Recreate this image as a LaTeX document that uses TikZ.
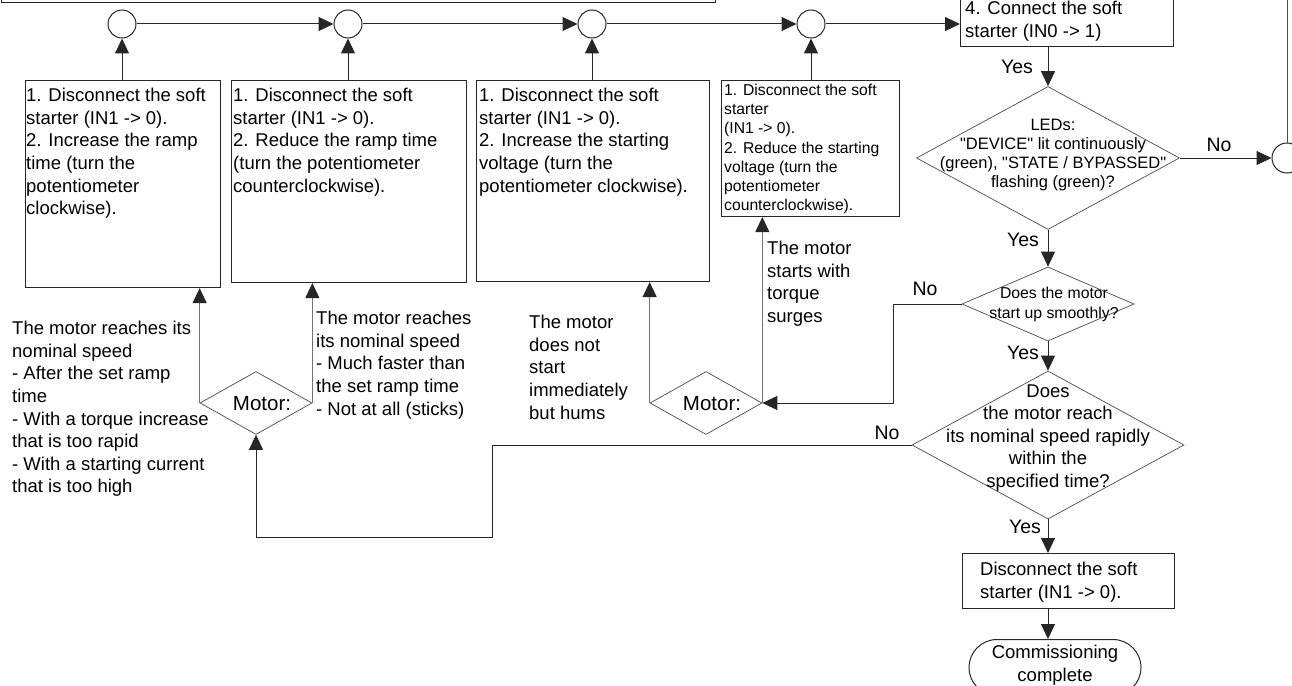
\documentclass[tikz,border=0pt]{standalone}
\usepackage{fontspec}
\setmainfont{Liberation Sans}[Ligatures=TeXOff]
\usetikzlibrary{arrows.meta,shapes.geometric}
\begin{document}
\begin{tikzpicture}[x=1pt,y=-1pt,
  box/.style={rectangle, draw=black!85, line width=1.1pt, inner sep=0pt},
  dia/.style={diamond, draw=black!70, line width=0.7pt, inner sep=0pt},
  circ/.style={circle, draw=black!85, line width=1pt, inner sep=0pt, minimum size=28pt},
  arr/.style={draw=black!85, line width=1pt, -{Triangle[length=15pt,width=14pt]}},
  garr/.style={draw=black!55, line width=1pt, -{Triangle[length=15pt,width=14pt,color=black!85]}},
  plain/.style={draw=black!70, line width=1pt},
  txt/.style={inner sep=0pt, align=left, font=\fontsize{18.5}{22.6}\selectfont},
  stxt/.style={inner sep=0pt, align=left, font=\fontsize{15.7}{19.2}\selectfont},
  ctxt/.style={inner sep=0pt, align=center, font=\fontsize{18.5}{22.5}\selectfont},
  lbl/.style={inner sep=0pt, font=\fontsize{19.5}{22}\selectfont},
  mtxt/.style={inner sep=0pt, font=\fontsize{20.5}{24}\selectfont}
]
\useasboundingbox (0,0) rectangle (1292,685);
\fill[white] (0,0) rectangle (1292,685);

% top elements
\node[box, anchor=south west, minimum width=714pt, minimum height=40pt] (topbox) at (1,3) {};
\node[circ] (c1) at (122,24) {};
\node[circ] (c2) at (348,24) {};
\node[circ] (c3) at (592,24) {};
\node[circ] (c4) at (811,24) {};
\node[box, anchor=south west, minimum width=213pt, minimum height=70pt] (b4top) at (960,47) {};
\node[txt, anchor=north west] (t4top) at (965,1) {4. Connect the soft\\starter (IN0 -> 1)};

% correction boxes
\node[box, anchor=north west, minimum width=195pt, minimum height=207pt] (b1) at (25,80) {};
\node[box, anchor=north west, minimum width=235pt, minimum height=202pt] (b2) at (231,80) {};
\node[box, anchor=north west, minimum width=233pt, minimum height=201pt] (b3) at (476,80) {};
\node[box, anchor=north west, minimum width=178pt, minimum height=136pt] (b4) at (721,80) {};
\node[txt, anchor=north west] (t1) at (26,88) {1. Disconnect the soft\\starter (IN1 -> 0).\\2. Increase the ramp\\time (turn the\\potentiometer\\clockwise).};
\node[txt, anchor=north west] (t2) at (233,88) {1. Disconnect the soft\\starter (IN1 -> 0).\\2. Reduce the ramp time\\(turn the potentiometer\\counterclockwise).};
\node[txt, anchor=north west] (t3) at (479,88) {1. Disconnect the soft\\starter (IN1 -> 0).\\2. Increase the starting\\voltage (turn the\\potentiometer clockwise).};
\node[stxt, anchor=north west] (t4) at (724,84) {1. Disconnect the soft\\starter\\(IN1 -> 0).\\2. Reduce the starting\\voltage (turn the\\potentiometer\\counterclockwise).};

% decision column
\coordinate (colx) at (1048,0);
\node[dia, minimum width=263pt, minimum height=143pt] (leds) at (1048,158) {};
\node[inner sep=0pt, align=center, font=\fontsize{16.5}{19}\selectfont] (ledst) at (1053,155) {LEDs:\\"DEVICE" lit continuously\\(green), "STATE / BYPASSED"\\flashing (green)?};
\node[circ, minimum size=30pt] (rc) at (1287,158) {};
\coordinate (rtop) at (1287,-2);
\node[dia, minimum width=172pt, minimum height=74pt] (smooth) at (1048,304) {};
\node[inner sep=0pt, align=center, font=\fontsize{15.8}{20}\selectfont] (smootht) at (1054,304) {Does the motor\\start up smoothly?};
\node[dia, minimum width=272pt, minimum height=148pt] (big) at (1048,445) {};
\node[ctxt] (bigt) at (1048,438) {Does\\the motor reach\\its nominal speed rapidly\\within the\\specified time?};
\node[box, anchor=north west, minimum width=212pt, minimum height=55pt] (fbox) at (962,553) {};
\node[txt, anchor=north west] (fboxt) at (980,562) {Disconnect the soft\\starter (IN1 -> 0).};
\node[rectangle, draw=black!85, line width=1pt, rounded corners=28pt, anchor=north, minimum width=172pt, minimum height=56pt, inner sep=0pt] (term) at (1055,639) {};
\node[ctxt] (termt) at (1055,665) {Commissioning\\complete};

% motor diamonds
\node[dia, minimum width=112pt, minimum height=63pt] (m1) at (256,403) {};
\node[mtxt] (m1t) at (262,404) {Motor:};
\node[dia, minimum width=112pt, minimum height=63pt] (m2) at (706,403) {};
\node[mtxt] (m2t) at (712,404) {Motor:};

% side texts
\node[txt, anchor=north west] (s1) at (12,321) {The motor reaches its\\nominal speed\\- After the set ramp\\time\\- With a torque increase\\that is too rapid\\- With a starting current\\that is too high};
\node[txt, anchor=north west] (s2) at (316,311) {The motor reaches\\its nominal speed\\- Much faster than\\the set ramp time\\- Not at all (sticks)};
\node[txt, anchor=north west] (s3) at (529,315) {The motor\\does not\\start\\immediately\\but hums};
\node[txt, anchor=north west] (s4) at (767,241) {The motor\\starts with\\torque\\surges};

% labels
\node[lbl] (y1) at (1017,67) {Yes};
\node[lbl] (y2) at (1023,240) {Yes};
\node[lbl] (y3) at (1023,353) {Yes};
\node[lbl] (y4) at (1025,527) {Yes};
\node[lbl] (n1) at (1219,145) {No};
\node[lbl] (n2) at (925,289) {No};
\node[lbl] (n3) at (887,433) {No};

% connectors: top row
\draw[arr] (c1) -- (c2);
\draw[arr] (c2) -- (c3);
\draw[arr] (c3) -- (c4);
\draw[arr] (c4.east) -- (c4.east -| b4top.west);
\draw[arr] (b1.north -| c1) -- (c1.south);
\draw[arr] (b2.north -| c2) -- (c2.south);
\draw[arr] (b3.north -| c3) -- (c3.south);
\draw[arr] (b4.north -| c4) -- (c4.south);

% decision column connectors
\draw[arr] (b4top.south -| colx) -- (leds.north);
\draw[arr] (leds.south) -- (smooth.north);
\draw[arr] (smooth.south) -- (big.north);
\draw[arr] (big.south) -- (fbox.north -| colx);
\draw[arr] (fbox.south -| colx) -- (term.north -| colx);
\draw[arr] (leds.east) -- (rc.west);
\draw[plain] (rc.north) -- (rtop);
\draw[arr] (smooth.west) -- (893,304) |- (m2.east);
\draw[arr] (big.west) -- (492,445) -- (492,537) -| (m1.south);

% motor diamond outputs
\draw[garr] (m1.west) -- (m1.west |- b1.south);
\draw[garr] (m1.east) -- (m1.east |- b2.south);
\draw[garr] (m2.west) -- (m2.west |- b3.south);
\draw[garr] (m2.east) -- (m2.east |- b4.south);
\end{tikzpicture}
\end{document}
